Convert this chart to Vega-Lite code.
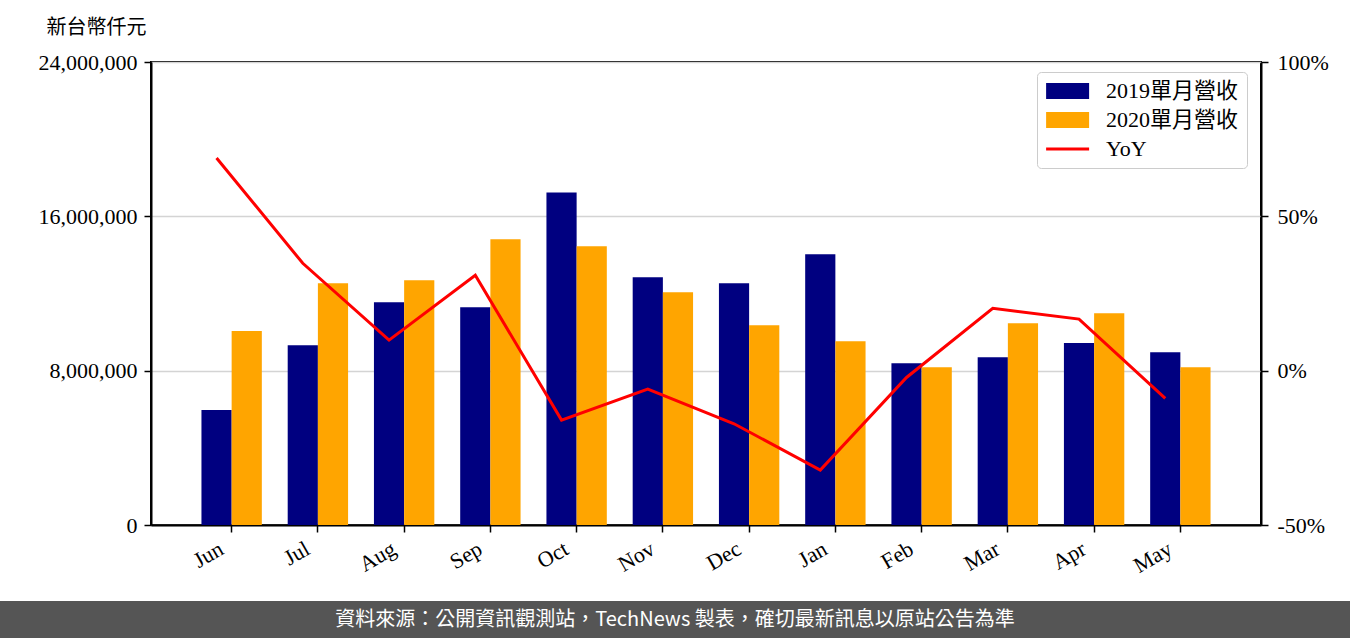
{
  "$schema": "https://vega.github.io/schema/vega-lite/v6.json",
  "padding": {"left": 0, "top": 16, "right": 0, "bottom": 0},
  "spacing": 0,
  "bounds": "full",
  "background": "white",
  "config": {
    "font": "Liberation Serif",
    "axis": {"domainColor": "black", "domainWidth": 2, "tickColor": "black", "tickWidth": 1.5, "tickSize": 7, "labelColor": "black", "labelFont": "Liberation Serif", "labelFontSize": 22}
  },
  "datasets": {
    "bars": [
      {"month": "Jun", "series": "2019單月營收", "value": 5960000},
      {"month": "Jun", "series": "2020單月營收", "value": 10050000},
      {"month": "Jul", "series": "2019單月營收", "value": 9320000},
      {"month": "Jul", "series": "2020單月營收", "value": 12530000},
      {"month": "Aug", "series": "2019單月營收", "value": 11550000},
      {"month": "Aug", "series": "2020單月營收", "value": 12690000},
      {"month": "Sep", "series": "2019單月營收", "value": 11290000},
      {"month": "Sep", "series": "2020單月營收", "value": 14810000},
      {"month": "Oct", "series": "2019單月營收", "value": 17240000},
      {"month": "Oct", "series": "2020單月營收", "value": 14450000},
      {"month": "Nov", "series": "2019單月營收", "value": 12840000},
      {"month": "Nov", "series": "2020單月營收", "value": 12070000},
      {"month": "Dec", "series": "2019單月營收", "value": 12530000},
      {"month": "Dec", "series": "2020單月營收", "value": 10360000},
      {"month": "Jan", "series": "2019單月營收", "value": 14030000},
      {"month": "Jan", "series": "2020單月營收", "value": 9530000},
      {"month": "Feb", "series": "2019單月營收", "value": 8390000},
      {"month": "Feb", "series": "2020單月營收", "value": 8180000},
      {"month": "Mar", "series": "2019單月營收", "value": 8700000},
      {"month": "Mar", "series": "2020單月營收", "value": 10460000},
      {"month": "Apr", "series": "2019單月營收", "value": 9430000},
      {"month": "Apr", "series": "2020單月營收", "value": 10980000},
      {"month": "May", "series": "2019單月營收", "value": 8960000},
      {"month": "May", "series": "2020單月營收", "value": 8180000}
    ],
    "yoy": [
      {"month": "Jun", "yoy": 68.9},
      {"month": "Jul", "yoy": 34.8},
      {"month": "Aug", "yoy": 9.9},
      {"month": "Sep", "yoy": 30.9},
      {"month": "Oct", "yoy": -16.0},
      {"month": "Nov", "yoy": -6.0},
      {"month": "Dec", "yoy": -17.2},
      {"month": "Jan", "yoy": -32.2},
      {"month": "Feb", "yoy": -2.2},
      {"month": "Mar", "yoy": 20.2},
      {"month": "Apr", "yoy": 16.7},
      {"month": "May", "yoy": -9.0}
    ]
  },
  "vconcat": [
    {
      "spacing": 0,
      "bounds": "full",
      "hconcat": [
        {
          "width": 1,
          "height": 1,
          "view": {"stroke": null},
          "data": {"values": [{"blank": ""}]},
          "mark": {"type": "text", "opacity": 0},
          "encoding": {"text": {"field": "blank", "type": "nominal"}}
        },
        {
          "width": 1110,
          "height": 463,
          "view": {"stroke": "black", "strokeWidth": 2},
          "layer": [
            {
              "data": {"name": "bars"},
              "mark": {"type": "bar"},
              "encoding": {
                "x": {
                  "field": "month", "type": "nominal",
                  "sort": ["Jun", "Jul", "Aug", "Sep", "Oct", "Nov", "Dec", "Jan", "Feb", "Mar", "Apr", "May"],
                  "scale": {"paddingInner": 0.3, "paddingOuter": 0.585},
                  "axis": {"title": null, "labelAngle": -30, "labelAlign": "right", "labelBaseline": "top", "labelPadding": 6, "labelOffset": -15, "labelFontSize": 22, "minExtent": 75, "grid": false}
                },
                "xOffset": {"field": "series", "type": "nominal", "scale": {"paddingInner": 0, "paddingOuter": 0}},
                "y": {
                  "field": "value", "type": "quantitative",
                  "scale": {"domain": [0, 24000000], "nice": false},
                  "axis": {
                    "values": [0, 8000000, 16000000, 24000000],
                    "labelExpr": "format(datum.value, ',')",
                    "title": "新台幣仟元", "titleAngle": 0, "titleAlign": "center", "titleBaseline": "middle",
                    "titleX": -55, "titleY": -35, "titleFont": "Noto Sans CJK TC", "titleFontSize": 20, "titleFontWeight": "normal", "titleColor": "black",
                    "labelPadding": 7, "minExtent": 149,
                    "grid": true, "gridColor": "#d4d4d4", "gridWidth": 1.6
                  }
                },
                "color": {
                  "field": "series", "type": "nominal",
                  "scale": {"domain": ["2019單月營收", "2020單月營收", "YoY"], "range": ["#000080", "#FFA500", "#FF0000"]},
                  "legend": {
                    "title": null, "orient": "none", "legendX": 1037, "legendY": 10,
                    "labelFont": "Liberation Serif, Noto Sans CJK TC", "labelFontSize": 22, "labelColor": "black",
                    "symbolSize": 1849, "labelOffset": 39, "rowPadding": 7, "padding": 8,
                    "strokeColor": "#cccccc", "cornerRadius": 4, "fillColor": "rgba(255,255,255,0.8)",
                    "symbolOpacity": 1,
                    "encode": {
                      "symbols": {
                        "update": {
                          "shape": {"signal": "datum.value === 'YoY' ? 'M-0.46,0H1.54' : 'M-0.46,-0.37H1.54V0.37H-0.46Z'"},
                          "fill": {"signal": "datum.value === '2019單月營收' ? '#000080' : (datum.value === '2020單月營收' ? '#FFA500' : 'transparent')"},
                          "stroke": {"signal": "datum.value === 'YoY' ? '#FF0000' : 'transparent'"},
                          "strokeWidth": {"signal": "datum.value === 'YoY' ? 3 : 0"},
                          "opacity": {"value": 1}
                        }
                      }
                    }
                  }
                }
              }
            },
            {
              "data": {"name": "yoy"},
              "mark": {"type": "line", "strokeWidth": 3, "color": "#FF0000"},
              "encoding": {
                "x": {
                  "field": "month", "type": "nominal",
                  "sort": ["Jun", "Jul", "Aug", "Sep", "Oct", "Nov", "Dec", "Jan", "Feb", "Mar", "Apr", "May"],
                  "bandPosition": 0.25
                },
                "y": {
                  "field": "yoy", "type": "quantitative",
                  "scale": {"domain": [-50, 100], "nice": false},
                  "axis": {
                    "orient": "right", "title": null, "values": [-50, 0, 50, 100],
                    "labelExpr": "datum.value + '%'", "labelPadding": 9, "minExtent": 90, "grid": false
                  }
                },
                "color": {"datum": "YoY"}
              }
            }
          ],
          "resolve": {"scale": {"y": "independent"}, "axis": {"y": "independent"}}
        }
      ]
    },
    {
      "width": 1350,
      "height": 38,
      "view": {"fill": "#555555", "stroke": null},
      "data": {"values": [{"note": "資料來源：公開資訊觀測站，TechNews 製表，確切最新訊息以原站公告為準"}]},
      "mark": {"type": "text", "color": "white", "fontSize": 20, "font": "Noto Sans CJK TC"},
      "encoding": {"text": {"field": "note", "type": "nominal"}}
    }
  ]
}
